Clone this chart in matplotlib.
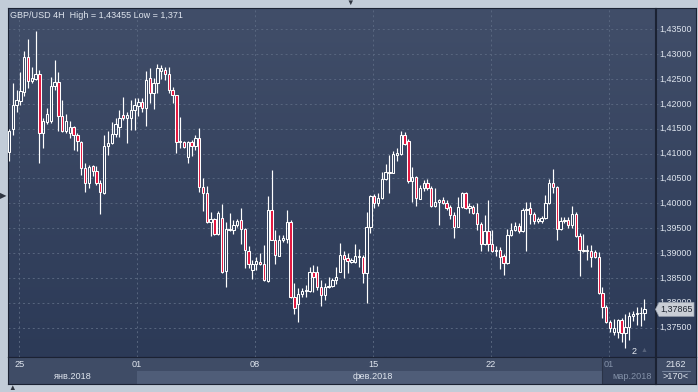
import numpy as np
import matplotlib.pyplot as plt
from matplotlib.patches import Rectangle, Polygon
from matplotlib.colors import LinearSegmentedColormap

# GBP/USD 4H candles (prices)
opens = [1.4103, 1.4149, 1.4198, 1.4206, 1.4224, 1.4294, 1.4247, 1.4251, 1.4261, 1.4141,
         1.4164, 1.4165, 1.4235, 1.4245, 1.4176, 1.4145, 1.4142, 1.4153, 1.4137, 1.4124,
         1.4070, 1.4040, 1.4075, 1.4065, 1.4040, 1.4020, 1.4115, 1.4121, 1.4139, 1.4153,
         1.4178, 1.4171, 1.4171, 1.4188, 1.4196, 1.4204, 1.4192, 1.4253, 1.4221, 1.4243,
         1.4267, 1.4268, 1.4260, 1.4228, 1.4218, 1.4123, 1.4123, 1.4094, 1.4123, 1.4116,
         1.4131, 1.4033, 1.4020, 1.3963, 1.3968, 1.3938, 1.3970, 1.3864, 1.3946, 1.3946,
         1.3956, 1.3966, 1.3948, 1.3904, 1.3866, 1.3877, 1.3881, 1.3877, 1.3844, 1.3986,
         1.3926, 1.3894, 1.3926, 1.3928, 1.3962, 1.3812, 1.3797, 1.3817, 1.3823, 1.3823,
         1.3862, 1.3861, 1.3832, 1.3816, 1.3832, 1.3834, 1.3846, 1.3862, 1.3896, 1.3890,
         1.3882, 1.3882, 1.3891, 1.3892, 1.3860, 1.3952, 1.4015, 1.4001, 1.4010, 1.4048,
         1.4063, 1.4061, 1.4098, 1.4099, 1.4137, 1.4126, 1.4045, 1.4052, 1.4009, 1.4030,
         1.4040, 1.4030, 1.3994, 1.4003, 1.4007, 1.4000, 1.3992, 1.3976, 1.3953, 1.3992,
         1.4021, 1.3990, 1.3993, 1.3980, 1.3958, 1.3918, 1.3944, 1.3918, 1.3903, 1.3906,
         1.3894, 1.3879, 1.3936, 1.3946, 1.3954, 1.3945, 1.3986, 1.3990, 1.3978, 1.3965,
         1.3965, 1.3970, 1.4000, 1.4040, 1.4032, 1.3948, 1.3964, 1.3966, 1.3956, 1.3978,
         1.3934, 1.3904, 1.3903, 1.3903, 1.3901, 1.3892, 1.3819, 1.3792, 1.3762, 1.3742,
         1.3742, 1.3765, 1.3738, 1.3752, 1.3773, 1.3777, 1.3779, 1.3779]
highs = [1.4149, 1.4241, 1.4228, 1.4265, 1.4306, 1.4330, 1.4274, 1.4346, 1.4268, 1.4172,
         1.4191, 1.4255, 1.4288, 1.4265, 1.4208, 1.4179, 1.4165, 1.4155, 1.4142, 1.4125,
         1.4081, 1.4078, 1.4078, 1.4075, 1.4047, 1.4137, 1.4145, 1.4164, 1.4171, 1.4188,
         1.4213, 1.4184, 1.4208, 1.4211, 1.4212, 1.4211, 1.4266, 1.4273, 1.4253, 1.4280,
         1.4278, 1.4275, 1.4275, 1.4233, 1.4218, 1.4174, 1.4125, 1.4125, 1.4127, 1.4137,
         1.4152, 1.4050, 1.4035, 1.3983, 1.3970, 1.3984, 1.3998, 1.3962, 1.3980, 1.3966,
         1.3968, 1.3991, 1.3951, 1.3915, 1.3886, 1.3892, 1.3899, 1.3916, 1.4015, 1.4067,
         1.3946, 1.3936, 1.3936, 1.3986, 1.3966, 1.3839, 1.3829, 1.3829, 1.3836, 1.3872,
         1.3876, 1.3874, 1.3846, 1.3839, 1.3852, 1.3849, 1.3871, 1.3921, 1.3903, 1.3899,
         1.3889, 1.3919, 1.3909, 1.3896, 1.3983, 1.4017, 1.4018, 1.4020, 1.4063, 1.4079,
         1.4097, 1.4106, 1.4111, 1.4145, 1.4144, 1.4129, 1.4072, 1.4055, 1.4037, 1.4047,
         1.4048, 1.4035, 1.4030, 1.4008, 1.4012, 1.4007, 1.3996, 1.3983, 1.4013, 1.4023,
         1.4023, 1.4000, 1.3996, 1.4001, 1.3962, 1.3976, 1.4007, 1.3946, 1.3914, 1.3913,
         1.3898, 1.3948, 1.3960, 1.3962, 1.3960, 1.3991, 1.4003, 1.4003, 1.3983, 1.3973,
         1.3974, 1.4017, 1.4048, 1.4068, 1.4035, 1.3972, 1.3972, 1.3972, 1.3994, 1.3983,
         1.3940, 1.3938, 1.3916, 1.3916, 1.3906, 1.3902, 1.3832, 1.3795, 1.3765, 1.3767,
         1.3767, 1.3769, 1.3777, 1.3782, 1.3784, 1.3792, 1.3792, 1.3807]
lows = [1.4085, 1.4137, 1.4184, 1.4198, 1.4216, 1.4231, 1.4241, 1.4249, 1.4082, 1.4112,
        1.4159, 1.4162, 1.4228, 1.4145, 1.4144, 1.4141, 1.4132, 1.4107, 1.4105, 1.4057,
        1.4023, 1.4031, 1.4055, 1.4037, 1.3978, 1.4018, 1.4097, 1.4119, 1.4134, 1.4134,
        1.4168, 1.4121, 1.4147, 1.4147, 1.4176, 1.4184, 1.4156, 1.4201, 1.4189, 1.4222,
        1.4251, 1.4249, 1.4222, 1.4201, 1.4101, 1.4111, 1.4112, 1.4082, 1.4095, 1.4107,
        1.4023, 1.3984, 1.3960, 1.3934, 1.3936, 1.3937, 1.3860, 1.3832, 1.3945, 1.3938,
        1.3952, 1.3918, 1.3870, 1.3869, 1.3847, 1.3866, 1.3876, 1.3844, 1.3842, 1.3926,
        1.3877, 1.3893, 1.3923, 1.3921, 1.3810, 1.3777, 1.3762, 1.3811, 1.3812, 1.3822,
        1.3822, 1.3825, 1.3794, 1.3805, 1.3830, 1.3832, 1.3837, 1.3861, 1.3849, 1.3860,
        1.3879, 1.3880, 1.3872, 1.3839, 1.3799, 1.3941, 1.3991, 1.3994, 1.4009, 1.4047,
        1.4021, 1.4060, 1.4086, 1.4098, 1.4117, 1.4040, 1.4003, 1.3995, 1.4008, 1.4025,
        1.4027, 1.3993, 1.3993, 1.3956, 1.3999, 1.3986, 1.3968, 1.3930, 1.3952, 1.3990,
        1.3988, 1.3980, 1.3978, 1.3946, 1.3903, 1.3916, 1.3903, 1.3901, 1.3894, 1.3867,
        1.3856, 1.3878, 1.3934, 1.3944, 1.3940, 1.3943, 1.3903, 1.3958, 1.3958, 1.3960,
        1.3961, 1.3968, 1.3999, 1.4020, 1.3926, 1.3946, 1.3960, 1.3950, 1.3950, 1.3932,
        1.3854, 1.3902, 1.3886, 1.3871, 1.3890, 1.3817, 1.3769, 1.3759, 1.3742, 1.3735,
        1.3729, 1.3720, 1.3709, 1.3725, 1.3764, 1.3755, 1.3754, 1.3765]
closes = [1.4145, 1.4198, 1.4208, 1.4226, 1.4294, 1.4247, 1.4253, 1.4261, 1.4141, 1.4165,
          1.4179, 1.4236, 1.4245, 1.4176, 1.4145, 1.4165, 1.4154, 1.4137, 1.4125, 1.4070,
          1.4040, 1.4072, 1.4065, 1.4040, 1.4022, 1.4115, 1.4121, 1.4139, 1.4159, 1.4171,
          1.4171, 1.4178, 1.4188, 1.4198, 1.4204, 1.4192, 1.4249, 1.4221, 1.4243, 1.4272,
          1.4272, 1.4260, 1.4228, 1.4218, 1.4124, 1.4125, 1.4114, 1.4123, 1.4116, 1.4131,
          1.4033, 1.4020, 1.3963, 1.3968, 1.3938, 1.3980, 1.3862, 1.3948, 1.3948, 1.3956,
          1.3964, 1.3948, 1.3906, 1.3877, 1.3877, 1.3884, 1.3877, 1.3846, 1.3986, 1.3926,
          1.3896, 1.3926, 1.3930, 1.3962, 1.3812, 1.3789, 1.3817, 1.3823, 1.3825, 1.3862,
          1.3852, 1.3832, 1.3816, 1.3832, 1.3834, 1.3846, 1.3851, 1.3896, 1.3888, 1.3884,
          1.3886, 1.3894, 1.3894, 1.3860, 1.3952, 1.4015, 1.4001, 1.4010, 1.4048, 1.4063,
          1.4060, 1.4099, 1.4101, 1.4137, 1.4119, 1.4045, 1.4052, 1.4010, 1.4030, 1.4040,
          1.4030, 1.3994, 1.4003, 1.4007, 1.4000, 1.3990, 1.3976, 1.3953, 1.3992, 1.4021,
          1.3990, 1.3994, 1.3980, 1.3958, 1.3918, 1.3944, 1.3918, 1.3903, 1.3906, 1.3892,
          1.3879, 1.3936, 1.3946, 1.3954, 1.3945, 1.3986, 1.3988, 1.3978, 1.3965, 1.3968,
          1.3970, 1.4000, 1.4040, 1.4032, 1.3948, 1.3964, 1.3966, 1.3956, 1.3978, 1.3934,
          1.3906, 1.3906, 1.3905, 1.3892, 1.3892, 1.3819, 1.3792, 1.3762, 1.3749, 1.3749,
          1.3765, 1.3738, 1.3752, 1.3773, 1.3777, 1.3780, 1.3780, 1.37865]

price_ticks = [1.375, 1.380, 1.385, 1.390, 1.395, 1.400, 1.405, 1.410, 1.415, 1.420, 1.425, 1.430, 1.435]
day_labels = ['25', '01', '08', '15', '22', '01']
month_labels = ['янв.2018', 'фев.2018', 'мар.2018']
title = 'GBP/USD 4H  High = 1,43455 Low = 1,371'
last_price = 1.37865

W, H = 698, 392
fig = plt.figure(figsize=(W / 100, H / 100), dpi=100)
fig.patch.set_facecolor('#c2ccd8')
plt.rcParams['font.family'] = ['Liberation Sans', 'DejaVu Sans']

def px_axes(x0, y0, x1, y1):
    a = fig.add_axes([x0 / W, 1 - y1 / H, (x1 - x0) / W, (y1 - y0) / H])
    a.set_xticks([])
    a.set_yticks([])
    for s in a.spines.values():
        s.set_color('#1b2233')
        s.set_linewidth(0.8)
    return a

bg = LinearSegmentedColormap.from_list('bg', ['#414e69', '#2c3a57'])
grad = np.linspace(0, 1, 256).reshape(-1, 1)

x0, x1 = -0.26, 169.8
y0, y1 = 1.36907, 1.43929
n = len(closes)
week = 31
day_pos = [2.7 + week * k for k in range(len(day_labels))]

# main chart
ax = px_axes(8, 8, 655, 357)
ax.imshow(grad, cmap=bg, aspect='auto', extent=[0, 1, 0, 1], transform=ax.transAxes, zorder=0)
ax.set_xlim(x0, x1)
ax.set_ylim(y0, y1)
for p in price_ticks:
    ax.axhline(p, color='#58667f', lw=0.7, ls=(0, (2, 3)), zorder=1)
for d in day_pos:
    ax.axvline(d, color='#58667f', lw=0.7, ls=(0, (2, 3)), zorder=1)

red = '#e3163f'
bw = 0.62
for i in range(n):
    o, h, l, c = opens[i], highs[i], lows[i], closes[i]
    top, bot = max(o, c), min(o, c)
    if top - bot < 0.00004:
        top = bot + 0.00004
    ax.plot([i, i], [top, h], color='white', lw=0.85, solid_capstyle='butt', zorder=2)
    ax.plot([i, i], [l, bot], color='white', lw=0.85, solid_capstyle='butt', zorder=2)
    ax.add_patch(Rectangle((i - bw / 2, bot), bw, top - bot,
                           facecolor=red if c < o else 'none',
                           edgecolor='white', lw=0.75, zorder=3))

fig.text(10 / W, 1 - 15 / H, title, color='#dfe5ee', fontsize=6.5, va='center', ha='left')
fig.text(634 / W, 1 - 352 / H, '2', color='#e8ecf2', fontsize=6.5, va='center', ha='center')
fig.text(644 / W, 1 - 351 / H, '▲', color='#56627a', fontsize=5, va='center', ha='center')

# price axis
axr = px_axes(656, 8, 696, 357)
axr.imshow(grad, cmap=bg, aspect='auto', extent=[0, 1, 0, 1], transform=axr.transAxes, zorder=0)
axr.set_xlim(0, 40)
axr.set_ylim(y0, y1)
for p in price_ticks:
    axr.plot([0, 5], [p, p], color='#58667f', lw=0.7, ls=(0, (2, 2)))
    axr.text(3.5, p, f'{p:.5f}'.replace('.', ','), color='#dfe5ee', fontsize=6.4,
             va='center', ha='left')
hh = 0.0014
tag = Polygon([[-0.5, last_price], [3, last_price + hh], [38, last_price + hh],
               [38, last_price - hh], [3, last_price - hh]],
              closed=True, facecolor='#c9ced6', edgecolor='#9aa3b0', lw=0.5, clip_on=False, zorder=5)
axr.add_patch(tag)
axr.text(4, last_price, f'{last_price:.5f}'.replace('.', ','), color='#1d2430', fontsize=6.4,
         va='center', ha='left', zorder=6)

# date strip
axb = px_axes(8, 357, 655, 384)
axb.set_xlim(x0, x1)
axb.set_ylim(0, 1)
axb.set_facecolor('#3f4c66')
bounds = [x0, day_pos[1], day_pos[5], x1]
axb.add_patch(Rectangle((bounds[1], 0), bounds[2] - bounds[1], 0.5, facecolor='#4f5d78', lw=0))
shade0 = day_pos[5] - 1.8
axb.add_patch(Rectangle((shade0, 0), x1 - shade0, 1, facecolor='#34405a', lw=0, zorder=2))
axb.plot([shade0, shade0], [0, 1], color='#2a3347', lw=0.8, zorder=3)
for k, (d, lab) in enumerate(zip(day_pos, day_labels)):
    col = '#8391a8' if d > shade0 else '#dfe5ee'
    axb.text(d, 0.74, lab, color=col, fontsize=6.6, ha='center', va='center', zorder=4)
for k, lab in enumerate(month_labels):
    mid = (bounds[k] + bounds[k + 1]) / 2
    col = '#8391a8' if mid > shade0 else '#dfe5ee'
    axb.text(mid, 0.26, lab, color=col, fontsize=6.6, ha='center', va='center', zorder=4)

axc = px_axes(656, 357, 696, 384)
axc.set_facecolor('#3f4c66')
axc.set_xlim(0, 1)
axc.set_ylim(0, 1)
axc.text(0.5, 0.74, '2162', color='#dfe5ee', fontsize=6.6, ha='center', va='center')
axc.plot([0.15, 0.85], [0.5, 0.5], color='#8391a8', lw=0.6)
axc.text(0.5, 0.26, '>170<', color='#dfe5ee', fontsize=6.6, ha='center', va='center')

# small window arrows
fig.text(350 / W, 1 - 3 / H, '▼', color='#2e3440', fontsize=5.5, ha='center', va='center')
fig.text(3.5 / W, 1 - 197 / H, '▶', color='#2e3440', fontsize=6, ha='center', va='center')
fig.text(12 / W, 1 - 389 / H, '▲', color='#2e3440', fontsize=5.5, ha='center', va='center')

fig.savefig('out.png', dpi=100, facecolor=fig.get_facecolor())
